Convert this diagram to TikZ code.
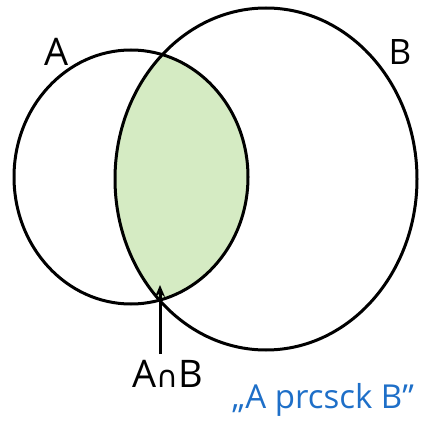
\documentclass[tikz,border=0pt]{standalone}
\usepackage{fontspec}
\setsansfont{Open Sans}
\newfontfamily\symfont{DejaVu Sans}
\usetikzlibrary{arrows.meta}
\definecolor{lens}{HTML}{D5EBC3}
\definecolor{penblue}{HTML}{1E6FC8}
\tikzset{
  outline/.style={line width=3pt, draw=black},
  lbl/.style={font=\sffamily\fontsize{38}{40}\selectfont, inner sep=0pt},
  note/.style={font=\sffamily\fontsize{33}{35}\selectfont, text=penblue, inner sep=0pt}
}
\begin{document}
\begin{tikzpicture}[x=1pt,y=-1pt]
\useasboundingbox (0,0) rectangle (423,422);
% green intersection
\begin{scope}
  \clip (131,177) ellipse [x radius=117, y radius=127];
  \fill[lens] (266,179) ellipse [x radius=151, y radius=171];
\end{scope}
% sets
\draw[outline] (131,177) ellipse [x radius=117, y radius=127];
\draw[outline] (266,179) ellipse [x radius=151, y radius=171];
% labels
\node[lbl] (la) at (57,52) {A};
\node[lbl, font=\sffamily\fontsize{35}{37}\selectfont] (lb) at (400,52) {B};
\node[lbl, anchor=north] (ab) at (168,360) {A{\symfont\fontsize{30}{32}\selectfont ∩}B};
\node[note] (pr) at (323,400) {„A prcsck B"};
\coordinate (tip) at (160,285);
\draw[line width=3pt, -{Stealth[length=12pt,width=10pt]}] (ab.north -| tip) ++(0,-6) -- (tip);
\end{tikzpicture}
\end{document}
